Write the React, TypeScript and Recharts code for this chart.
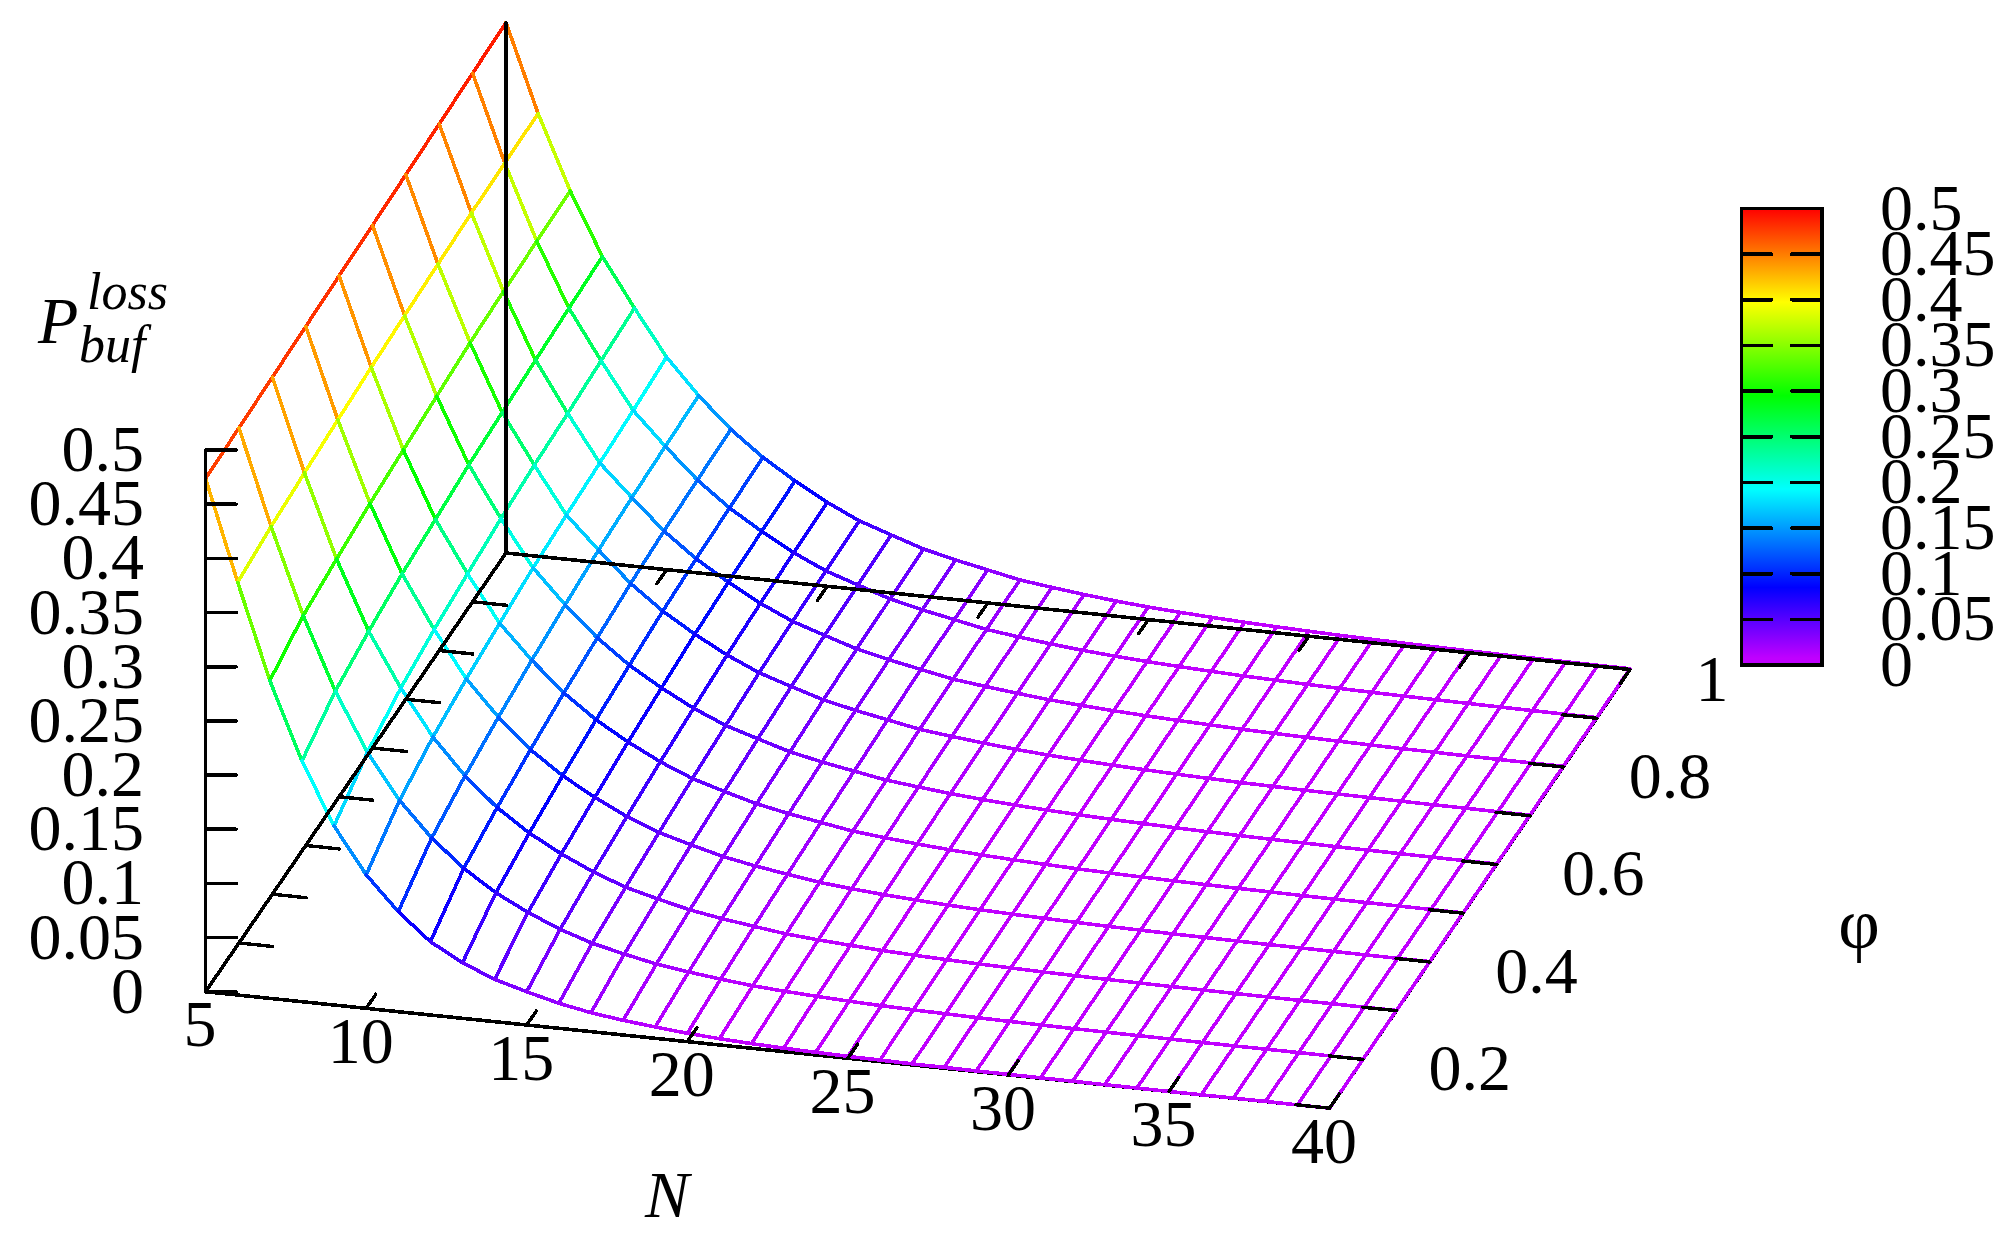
import React from "react";
import { ScatterChart, Scatter, XAxis, YAxis, ReferenceArea } from "recharts";

const W = 2015;
const H = 1255;
const FONT = '"Liberation Serif", "Times New Roman", serif';

// Grid of the surface
const nValues = [5,6,7,8,9,10,11,12,13,14,15,16,17,18,19,20,21,22,23,24,25,26,27,28,29,30,31,32,33,34,35,36,37,38,39,40];
const phiValues = [0.1,0.2,0.3,0.4,0.5,0.6,0.7,0.8,0.9,1];

// P_buf^loss: one row for each N, one column for each phi
const lossByN = [
  [.4737,.4755,.4773,.4791,.4809,.4825,.4843,.4861,.4879,.4897],
  [.381,.3875,.392,.396,.3995,.4022,.4048,.407,.408,.4088],
  [.2933,.3084,.3156,.3219,.3263,.3309,.3354,.3376,.339,.3404],
  [.2222,.2417,.252,.26,.2652,.2706,.274,.2773,.2802,.283],
  [.1653,.1883,.2026,.2117,.2181,.2241,.2284,.2312,.2348,.2384],
  [.1233,.147,.1605,.1692,.1755,.1817,.1855,.1885,.192,.1963],
  [.0923,.1154,.1277,.1369,.1445,.1506,.1562,.1596,.1619,.1637],
  [.0677,.0904,.1015,.11,.1174,.1232,.1284,.1318,.1339,.1357],
  [.0513,.0709,.0811,.089,.0956,.101,.106,.1092,.1112,.1129],
  [.0391,.0559,.0649,.0721,.0782,.0831,.0877,.0907,.0926,.0942],
  [.0307,.0433,.0512,.0575,.063,.0674,.0716,.0743,.076,.0775],
  [.0231,.0336,.0403,.0458,.0506,.0546,.0583,.0607,.0623,.0636],
  [.0175,.0266,.0325,.0374,.0417,.0453,.0486,.0509,.0523,.0535],
  [.0135,.0205,.0255,.0297,.0334,.0364,.0394,.0414,.0426,.0437],
  [.0105,.0162,.0205,.0241,.0274,.0301,.0328,.0345,.0356,.0366],
  [.0077,.0127,.0164,.0195,.0224,.0247,.0271,.0286,.0296,.0305],
  [.0058,.0096,.0125,.0151,.0174,.0195,.0214,.0227,.0236,.0243],
  [.0043,.0076,.0101,.0123,.0144,.0162,.0179,.0191,.0198,.0205],
  [.0032,.006,.0081,.0099,.0117,.0132,.0148,.0158,.0164,.017],
  [.0024,.0046,.0064,.008,.0095,.0108,.0121,.0129,.0135,.014],
  [.0018,.0036,.0051,.0064,.0077,.0088,.0099,.0107,.0112,.0116],
  [.0014,.0028,.0041,.0052,.0063,.0072,.0082,.0089,.0093,.0097],
  [.001,.0022,.0032,.0042,.0051,.0059,.0068,.0074,.0078,.0081],
  [.0008,.0017,.0026,.0034,.0041,.0048,.0056,.0061,.0064,.0067],
  [.0006,.0013,.002,.0027,.0033,.004,.0046,.0051,.0053,.0056],
  [.0005,.001,.0016,.0021,.0027,.0032,.0037,.0041,.0044,.0046],
  [.0004,.0008,.0012,.0017,.0022,.0026,.003,.0034,.0036,.0038],
  [.0003,.0006,.001,.0014,.0018,.0021,.0025,.0028,.003,.0032],
  [.0002,.0005,.0008,.0011,.0014,.0017,.002,.0023,.0024,.0026],
  [.0002,.0004,.0006,.0009,.0012,.0014,.0017,.0019,.002,.0022],
  [.0001,.0003,.0005,.0007,.0009,.0011,.0014,.0015,.0017,.0018],
  [.0001,.0002,.0004,.0006,.0007,.0009,.0011,.0013,.0014,.0015],
  [.0001,.0002,.0003,.0005,.0006,.0008,.0009,.001,.0011,.0012],
  [.0001,.0002,.0003,.0004,.0005,.0006,.0008,.0008,.0009,.001],
  [0,.0001,.0002,.0003,.0004,.0005,.0006,.0007,.0007,.0008],
  [0,.0001,.0002,.0003,.0003,.0004,.0005,.0006,.0006,.0007],
];

// Axes
const zTicks = [0,0.05,0.1,0.15,0.2,0.25,0.3,0.35,0.4,0.45,0.5];
const zTickLabels = ["0","0.05","0.1","0.15","0.2","0.25","0.3","0.35","0.4","0.45","0.5"];
const nTicks = [5,10,15,20,25,30,35,40];
const phiTicks = [0.1,0.2,0.3,0.4,0.5,0.6,0.7,0.8,0.9,1];
const phiLabelled = [0.2,0.4,0.6,0.8,1];
const phiLabels = ["0.2","0.4","0.6","0.8","1"];

// Palette
const paletteStops = [0,0.015,0.17,0.385,0.59,0.795,1];
const paletteColors = [[192,0,255],[192,0,255],[0,0,255],[0,255,255],[0,255,0],[255,255,0],[255,0,0]];
const Z_MAX = 0.5;

const hex = (c: number[]) => "#" + c.map((v) => Math.round(v).toString(16).padStart(2, "0")).join("");
function colorOf(z: number) {
  const t = Math.max(0, Math.min(1, z / Z_MAX));
  for (let i = 1; i < paletteStops.length; i++) {
    if (t <= paletteStops[i]) {
      const f = (t - paletteStops[i - 1]) / (paletteStops[i] - paletteStops[i - 1]);
      return hex(paletteColors[i].map((v, k) => paletteColors[i - 1][k] + (v - paletteColors[i - 1][k]) * f));
    }
  }
  return hex(paletteColors[paletteColors.length - 1]);
}

// The 3D view: an affine projection of (N, phi, z) on to the plotting plane
const project = (n: number, phi: number, z: number) => {
  const a = (n - 5) / 35;
  const b = (phi - 0.1) / 0.9;
  return { x: 205.6 + a * 1124 + b * 300.4, y: 991.7 + a * 116.5 - b * 438.7 - z * 1083.2 };
};

type Pt = { x: number; y: number };
type Seg = { pts: Pt[]; color: string; width: number };

const SURFACE_WIDTH = 3.6;
const surface: Seg[] = [];
nValues.forEach((n, i) => {
  phiValues.forEach((phi, j) => {
    const z = lossByN[i][j];
    if (j + 1 < phiValues.length) {
      const z2 = lossByN[i][j + 1];
      surface.push({ pts: [project(n, phi, z), project(n, phiValues[j + 1], z2)], color: colorOf((z + z2) / 2), width: SURFACE_WIDTH });
    }
    if (i + 1 < nValues.length) {
      const z2 = lossByN[i + 1][j];
      surface.push({ pts: [project(n, phi, z), project(nValues[i + 1], phi, z2)], color: colorOf((z + z2) / 2), width: SURFACE_WIDTH });
    }
  });
});

const black = (a: Pt, b: Pt, width = 3.6): Seg => ({ pts: [a, b], color: "#000000", width });

const under: Seg[] = [
  black(project(5, 0.1, 0), project(40, 0.1, 0)),
  black(project(40, 0.1, 0), project(40, 1, 0)),
];

const over: Seg[] = [
  black(project(5, 0.1, 0), project(5, 1, 0)),
  black(project(5, 1, 0), project(40, 1, 0)),
  black(project(5, 0.1, 0), project(5, 0.1, 0.5)),
  black(project(5, 1, 0), project(5, 1, lossByN[0][9])),
];
zTicks.forEach((z) => {
  const p = project(5, 0.1, 0);
  const q = { x: p.x, y: project(5, 0.1, z).y };
  over.push(black(q, { x: q.x + 30.5, y: q.y }));
});
const N_TICK = 1.05;
const PHI_TICK = 0.029;
phiTicks.forEach((phi) => {
  over.push(black(project(5, phi, 0), project(5 + N_TICK, phi, 0), 3.4));
  over.push(black(project(40, phi, 0), project(40 - N_TICK, phi, 0), 3.4));
});
nTicks.forEach((n) => {
  over.push(black(project(n, 0.1, 0), project(n, 0.1 + PHI_TICK, 0), 3.4));
  over.push(black(project(n, 1, 0), project(n, 1 - PHI_TICK, 0), 3.4));
});

// Colour box
const BOX = { left: 1741.5, right: 1822, top: 208.5, bottom: 665, tickIn: 28.7 };
const boxY = (z: number) => BOX.bottom - (z / Z_MAX) * (BOX.bottom - BOX.top);
const boxSegs: Seg[] = [];
zTicks.slice(1, -1).forEach((z) => {
  boxSegs.push(black({ x: BOX.left, y: boxY(z) }, { x: BOX.left + BOX.tickIn + 1.5, y: boxY(z) }));
  boxSegs.push(black({ x: BOX.right - BOX.tickIn - 1.5, y: boxY(z) }, { x: BOX.right, y: boxY(z) }));
});
const boxCorners: Pt[] = [
  { x: BOX.left, y: BOX.top },
  { x: BOX.right, y: BOX.top },
  { x: BOX.right, y: BOX.bottom },
  { x: BOX.left, y: BOX.bottom },
  { x: BOX.left, y: BOX.top },
];
boxSegs.push({ pts: boxCorners, color: "#000000", width: 3.6 });

type Lab = Pt & { text: string; anchor?: string; size?: number; italic?: boolean };
const labels: Lab[] = [];
zTicks.forEach((z, i) => {
  labels.push({ x: 144, y: project(5, 0.1, z).y + 21, text: zTickLabels[i], anchor: "end" });
  labels.push({ x: 1880, y: boxY(z) + 21, text: zTickLabels[i], anchor: "start" });
});
nTicks.forEach((n) => {
  const p = project(n, 0.1, 0);
  labels.push({ x: p.x - 5.5, y: p.y + 54.7, text: String(n), anchor: "middle" });
});
phiLabelled.forEach((phi, i) => {
  const p = project(40, phi, 0);
  labels.push({ x: p.x + 65.5, y: p.y + 31, text: phiLabels[i], anchor: "start" });
});
labels.push({ x: 667, y: 1217, text: "N", anchor: "middle", italic: true });
labels.push({ x: 1859, y: 948, text: "φ", anchor: "middle", size: 72 });
labels.push({ x: 38, y: 342.7, text: "P", anchor: "start", italic: true });
labels.push({ x: 87, y: 308.8, text: "loss", anchor: "start", italic: true, size: 52 });
labels.push({ x: 79, y: 362, text: "buf", anchor: "start", italic: true, size: 52 });

const LabelShape = (props: any) => {
  const l: Lab = props.payload;
  return (
    <text
      x={props.cx}
      y={props.cy}
      textAnchor={l.anchor}
      fontFamily={FONT}
      fontSize={l.size ?? 66}
      fontStyle={l.italic ? "italic" : "normal"}
      fill="#000000"
    >
      {l.text}
    </text>
  );
};

const NoDot = () => null;

const lineSeries = (segs: Seg[], prefix: string) =>
  segs.map((s, i) => (
    <Scatter
      key={prefix + i}
      data={s.pts}
      shape={NoDot as any}
      line={{ stroke: s.color, strokeWidth: s.width, strokeLinecap: "round", shapeRendering: "crispEdges" } as any}
      isAnimationActive={false}
      legendType="none"
    />
  ));

export default function App() {
  return (
    <div style={{ position: "absolute", left: 0, top: 0, width: W, height: H, background: "#ffffff" }}>
      <ScatterChart width={W} height={H} margin={{ top: 0, right: 0, bottom: 0, left: 0 }}>
        <defs>
          <linearGradient id="paletteBar" x1="0" y1="1" x2="0" y2="0">
            {paletteStops.map((s, i) => (
              <stop key={i} offset={s} stopColor={hex(paletteColors[i])} />
            ))}
          </linearGradient>
        </defs>
        <XAxis type="number" dataKey="x" domain={[0, W]} hide allowDataOverflow />
        <YAxis type="number" dataKey="y" domain={[0, H]} reversed hide allowDataOverflow />
        <ReferenceArea x1={BOX.left} x2={BOX.right} y1={BOX.top} y2={BOX.bottom} fill="url(#paletteBar)" fillOpacity={1} stroke="none" />
        {lineSeries(under, "u")}
        {lineSeries(surface, "s")}
        {lineSeries(over, "o")}
        {lineSeries(boxSegs, "b")}
        <Scatter data={labels} shape={LabelShape} isAnimationActive={false} legendType="none" />
      </ScatterChart>
    </div>
  );
}
